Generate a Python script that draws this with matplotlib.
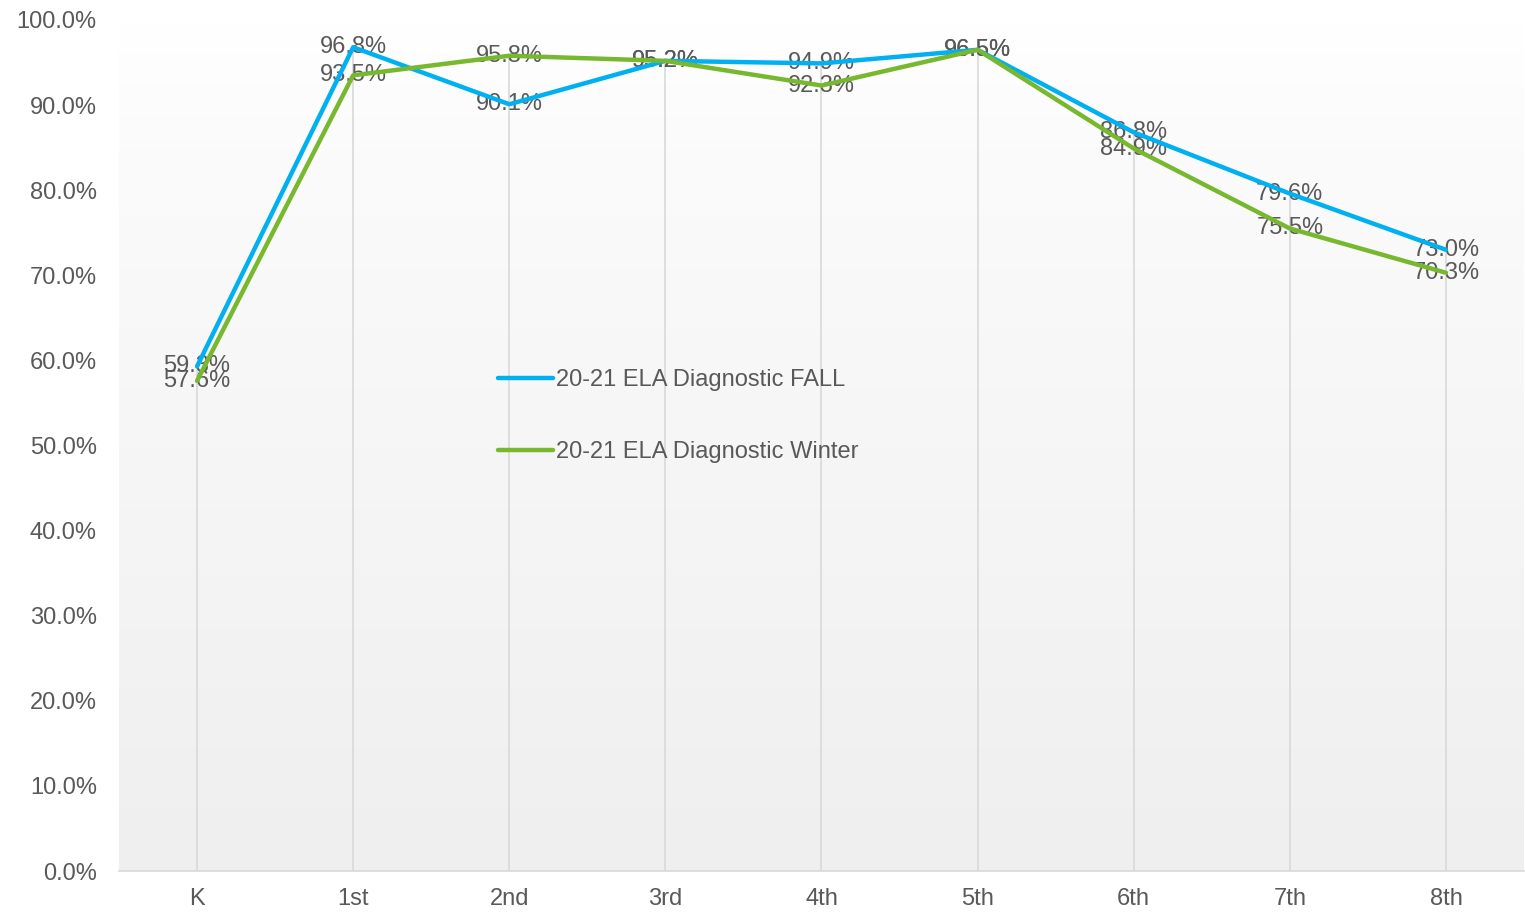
import matplotlib
matplotlib.use("Agg")
import matplotlib.pyplot as plt
import numpy as np
from matplotlib.ticker import FuncFormatter
from matplotlib.colors import LinearSegmentedColormap

categories = ["K", "1st", "2nd", "3rd", "4th", "5th", "6th", "7th", "8th"]
fall = [59.3, 96.8, 90.1, 95.2, 94.9, 96.5, 86.8, 79.6, 73.0]
winter = [57.6, 93.5, 95.8, 95.2, 92.3, 96.5, 84.9, 75.5, 70.3]
series_names = ["20-21 ELA Diagnostic FALL", "20-21 ELA Diagnostic Winter"]

plt.rcParams['font.family'] = ['Liberation Sans', 'DejaVu Sans']
txt = '#595959'
FS = 17

fig = plt.figure(figsize=(15.25, 9.15), dpi=100)
ax = fig.add_axes([119/1525, 1-871/915, (1524-119)/1525, (871-20)/915])

x = np.arange(len(categories))
ax.set_xlim(-0.5, len(categories) - 0.5)
ax.set_ylim(0, 100)

# gradient background
grad = np.linspace(0, 1, 256).reshape(-1, 1)
cmap = LinearSegmentedColormap.from_list('g', [(0, '#efefef'), (0.85, '#fbfbfb'), (1, '#ffffff')])
ax.imshow(grad, aspect='auto', cmap=cmap, extent=(-0.5, len(categories) - 0.5, 0, 100),
          origin='lower', zorder=0)

# drop lines
tops = [max(a, b) for a, b in zip(fall, winter)]
ax.vlines(x, 0, tops, colors='#d9d9d9', linewidth=1.2, zorder=1)

for xi, v in zip(x, fall):
    ax.text(xi, v, f"{v:.1f}%", ha='center', va='center', fontsize=FS, color=txt, zorder=2)
for xi, v in zip(x, winter):
    ax.text(xi, v, f"{v:.1f}%", ha='center', va='center', fontsize=FS, color=txt, zorder=2)

ax.plot(x, fall, color='#00b0f0', linewidth=3.2, solid_capstyle='round', zorder=3, label=series_names[0])
ax.plot(x, winter, color='#77b82f', linewidth=3.2, solid_capstyle='round', zorder=3, label=series_names[1])

ax.set_xticks(x)
ax.set_xticklabels(categories)
ax.set_yticks(np.arange(0, 101, 10))
ax.yaxis.set_major_formatter(FuncFormatter(lambda v, p: f"{v:.1f}%"))
ax.tick_params(axis='both', length=0, labelsize=FS, labelcolor=txt)
ax.tick_params(axis='x', pad=12)
ax.tick_params(axis='y', pad=16)
for s in ['top', 'right', 'left']:
    ax.spines[s].set_visible(False)
ax.spines['bottom'].set_color('#d9d9d9')
ax.spines['bottom'].set_linewidth(1.2)

leg = ax.legend(loc='upper left', bbox_to_anchor=(358/1405, 1-328/851), frameon=False,
                fontsize=FS, labelspacing=2.1, handlelength=2.3, handletextpad=0.15,
                labelcolor=txt)

fig.savefig("out.png", dpi=100)
